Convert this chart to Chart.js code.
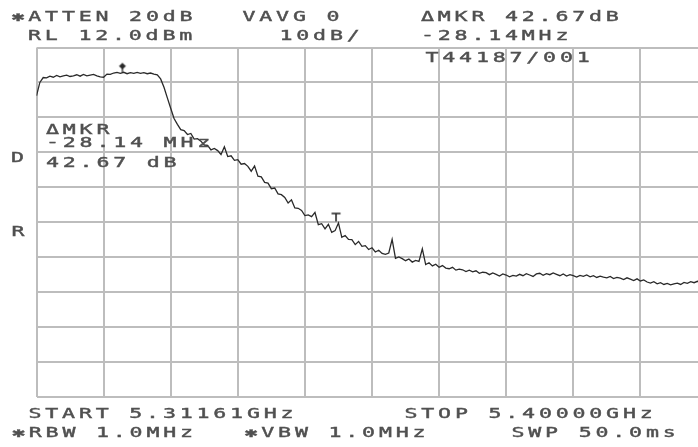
<!DOCTYPE html>
<html>
<head>
<meta charset="utf-8">
<script src="https://cdn.jsdelivr.net/npm/chart.js@4"></script>
<style>
html,body{margin:0;padding:0;background:#fff;overflow:hidden;}
#wrap{width:698px;height:447px;overflow:hidden;position:relative;}
canvas{display:block;filter:blur(0.35px);}
</style>
</head>
<body>
<div id="wrap"><canvas id="c" width="720" height="447"></canvas></div>
<script>
// ---- sweep / scale settings ----
const startGHz = 5.31161;
const stopGHz = 5.40000;
const xTickFreqs = [5.31161, 5.32045, 5.32929, 5.33813, 5.34697, 5.35581, 5.36464, 5.37348, 5.38232, 5.39116, 5.40000];
const yTickLevels = [12, 2, -8, -18, -28, -38, -48, -58, -68, -78, -88];

// ---- trace (dBm), 201 sweep points ----
const traceLevels = [
 -1.8, 2.0, 3.4, 3.3, 3.8, 3.5, 4.0, 3.6, 3.9, 4.1,
  3.7, 3.9, 4.2, 3.8, 4.3, 3.9, 4.1, 4.3, 3.9, 3.6,
  3.5, 4.4, 4.3, 4.7, 4.9, 4.6, 4.9, 4.5, 4.8, 4.6,
  4.9, 4.6, 4.8, 4.5, 4.7, 4.4, 4.2, 3.0, 0.6, -2.4,
 -5.4, -8.3, -10.0, -11.5, -11.8, -12.9, -12.6, -14.2, -14.1, -14.8,
 -15.9, -16.0, -17.3, -16.9, -17.5, -18.6, -16.4, -19.2, -19.0, -20.3,
 -20.1, -21.4, -21.2, -22.0, -23.4, -21.9, -24.8, -25.0, -26.6, -26.8,
 -28.4, -28.2, -29.9, -30.1, -30.9, -32.5, -31.6, -33.9, -34.0, -34.6,
 -36.1, -35.9, -36.4, -35.2, -38.7, -38.4, -39.9, -38.6, -40.9, -40.4,
 -38.2, -42.3, -41.8, -42.9, -43.0, -44.4, -43.5, -44.9, -44.7, -45.8,
 -45.3, -46.5, -46.0, -46.9, -47.2, -46.8, -42.9, -48.3, -47.9, -48.4,
 -49.0, -48.5, -49.4, -48.9, -49.2, -45.6, -50.1, -49.6, -50.5, -50.0,
 -50.9, -50.4, -51.1, -51.3, -50.9, -51.7, -51.4, -51.6, -52.1, -51.7,
 -52.2, -51.9, -52.6, -52.3, -52.4, -53.0, -52.5, -52.9, -53.4, -52.8,
 -53.1, -53.6, -53.2, -53.4, -52.9, -53.3, -52.7, -53.1, -53.5, -52.8,
 -52.6, -53.2, -52.7, -53.0, -52.5, -52.9, -53.3, -52.8, -53.4, -53.0,
 -53.3, -53.7, -53.2, -53.5, -53.1, -53.6, -53.3, -53.8, -53.4, -53.7,
 -53.9, -53.5, -54.1, -53.8, -54.0, -54.4, -53.9, -54.3, -54.7, -54.2,
 -54.8, -54.5, -55.1, -55.4, -55.0, -55.6, -55.3, -55.8, -55.5, -55.9,
 -55.6, -55.4, -55.8, -55.2, -55.5, -55.0, -55.3, -54.9, -55.2, -54.8,
 -55.0
];

// ---- markers: active (ΔMKR) and reference ----
const markerFreqs = [5.32293, 5.35107];
const markerLevels = [4.9, -37.77];

// ---- text annotations ----
const headerLeft = ["✱ATTEN 20dB", "RL 12.0dBm"];
const headerMid = ["VAVG 0", "10dB/"];
const headerRight = ["ΔMKR 42.67dB", "-28.14MHz", "T44187/001"];
const markerReadout = ["ΔMKR", "-28.14 MHz", "42.67 dB"];
const footerRow1 = ["START 5.31161GHz", "STOP 5.40000GHz"];
const footerRow2 = ["✱RBW 1.0MHz", "✱VBW 1.0MHz", "SWP 50.0ms"];

const traceData = traceLevels.map((v, i) => ({
  x: startGHz + (stopGHz - startGHz) * i / (traceLevels.length - 1),
  y: v
}));
const markerData = markerFreqs.map((f, i) => ({x: f, y: markerLevels[i]}));

function makeActiveMarker() {
  const c = document.createElement('canvas');
  c.width = 10; c.height = 20;
  const g = c.getContext('2d');
  g.fillStyle = '#2a2a2a'; g.strokeStyle = '#2a2a2a'; g.lineWidth = 1.3;
  g.beginPath(); g.moveTo(5, 0.5); g.lineTo(8.5, 3.8); g.lineTo(5, 7); g.lineTo(1.5, 3.8); g.closePath(); g.fill();
  g.beginPath(); g.moveTo(5, 4); g.lineTo(5, 10); g.stroke();
  return c;
}
function makeRefMarker() {
  const c = document.createElement('canvas');
  c.width = 12; c.height = 20;
  const g = c.getContext('2d');
  g.strokeStyle = '#2a2a2a'; g.lineWidth = 1.6;
  g.beginPath(); g.moveTo(1.5, 2); g.lineTo(10.5, 2); g.stroke();
  g.beginPath(); g.moveTo(6, 2); g.lineTo(6, 10); g.stroke();
  return c;
}

const ADV = 16.8, SX = 1.6, FONT = '13.5px "DejaVu Sans Mono"', TXT = '#505050';
function drawMono(ctx, str, x0, baseline) {
  ctx.save();
  ctx.font = FONT; ctx.fillStyle = TXT; ctx.strokeStyle = TXT; ctx.lineWidth = 0.4;
  ctx.textAlign = 'center'; ctx.textBaseline = 'alphabetic';
  [...str].forEach((ch, k) => {
    if (ch === ' ') return;
    ctx.save();
    ctx.translate(x0 + k * ADV + 6, baseline);
    ctx.scale(SX, 1);
    ctx.fillText(ch, 0, 0);
    ctx.strokeText(ch, 0, 0);
    ctx.restore();
  });
  ctx.restore();
}

const textPlugin = {
  id: 'screenText',
  afterDraw(chart) {
    const ctx = chart.ctx;
    drawMono(ctx, headerLeft[0], 12, 21);
    drawMono(ctx, headerLeft[1], 28.5, 40);
    drawMono(ctx, headerMid[0], 243, 21);
    drawMono(ctx, headerMid[1], 280, 40);
    drawMono(ctx, headerRight[0], 421.5, 21);
    drawMono(ctx, headerRight[1], 421.5, 40);
    drawMono(ctx, headerRight[2], 426, 62);
    drawMono(ctx, markerReadout[0], 46.5, 134);
    drawMono(ctx, markerReadout[1], 46.5, 147);
    drawMono(ctx, markerReadout[2], 46.5, 167);
    drawMono(ctx, "D", 11.5, 162);
    drawMono(ctx, "R", 12, 236);
    drawMono(ctx, footerRow1[0], 29, 418);
    drawMono(ctx, footerRow1[1], 405, 418);
    drawMono(ctx, footerRow2[0], 12.5, 437);
    drawMono(ctx, footerRow2[1], 245, 437);
    drawMono(ctx, footerRow2[2], 512, 437);
  }
};

const GRID = '#bdbdbd';
new Chart(document.getElementById('c'), {
  type: 'line',
  data: {
    datasets: [
      {data: traceData, borderColor: '#2a2a2a', borderWidth: 1.3, pointRadius: 0, tension: 0, fill: false},
      {data: markerData, showLine: false, pointStyle: [makeActiveMarker(), makeRefMarker()], pointRadius: 6}
    ]
  },
  options: {
    responsive: false,
    animation: false,
    events: [],
    layout: {padding: {left: 36.5, top: 47.5, right: 12.5, bottom: 50}},
    plugins: {legend: {display: false}, tooltip: {enabled: false}},
    scales: {
      x: {
        type: 'linear', min: startGHz, max: stopGHz,
        afterBuildTicks: s => { s.ticks = xTickFreqs.map(v => ({value: v})); },
        afterFit: s => { s.height = 0; },
        ticks: {display: false},
        grid: {color: GRID, lineWidth: 2, drawTicks: false, tickLength: 0},
        border: {display: false}
      },
      y: {
        type: 'linear', min: -88, max: 12,
        afterBuildTicks: s => { s.ticks = yTickLevels.map(v => ({value: v})); },
        afterFit: s => { s.width = 0; },
        ticks: {display: false},
        grid: {color: GRID, lineWidth: 2, drawTicks: false, tickLength: 0},
        border: {display: false}
      }
    }
  },
  plugins: [textPlugin]
});
</script>
</body>
</html>
